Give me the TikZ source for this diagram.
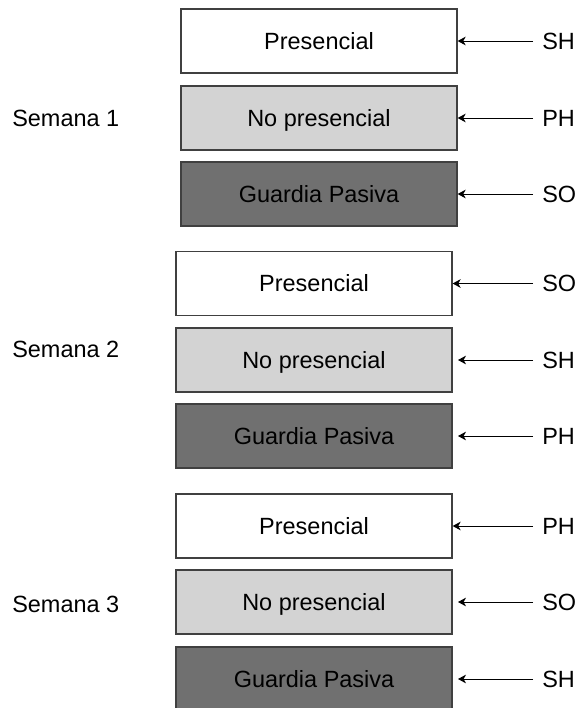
\documentclass[tikz,border=0pt]{standalone}
\usepackage{fontspec}
\setmainfont{Liberation Sans}
\usetikzlibrary{arrows.meta}

\definecolor{lightbox}{HTML}{D3D3D3}
\definecolor{darkbox}{HTML}{707070}
\definecolor{boxline}{HTML}{404040}

\tikzset{
  texto/.style={font=\fontsize{17.6}{20}\selectfont,text height=12.6pt,text depth=0pt},
  turno/.style={texto,draw=boxline,line width=1pt,minimum width=207pt,minimum height=48pt,
    inner sep=0pt},
  pres/.style={turno,fill=white},
  nopres/.style={turno,fill=lightbox},
  pasiva/.style={turno,fill=darkbox},
  quien/.style={texto,anchor=west,inner sep=0pt},
  semana/.style={texto,anchor=west,inner sep=0pt},
  flecha/.style={line width=0.75pt,-{Stealth[length=6pt,width=6.5pt,inset=1.8pt]}}
}

\begin{document}
\begin{tikzpicture}[x=0.75pt,y=-0.75pt]
  \useasboundingbox (0,0) rectangle (584,708);
  % semana 1
    \node[semana] (s1) at (12,118) {Semana 1};
    \node[pres] (p1) at (319,41) {Presencial};
    \node[nopres] (n1) at (319,118) {No presencial};
    \node[pasiva] (g1) at (319,194) {Guardia Pasiva};
    \node[quien] (lp1) at (542,41) {SH};
    \node[quien] (ln1) at (542,118) {PH};
    \node[quien] (lg1) at (542,194) {SO};
    \coordinate (ap1) at (533,41);
    \coordinate (an1) at (533,118);
    \coordinate (ag1) at (533,194);
    \draw[flecha] (ap1) -- (p1.east);
    \draw[flecha] (an1) -- (n1.east);
    \draw[flecha] (ag1) -- (g1.east);
  % semana 2
    \node[semana] (s2) at (12,349) {Semana 2};
    \node[pres] (p2) at (314,283.5) {Presencial};
    \node[nopres] (n2) at (314,360) {No presencial};
    \node[pasiva] (g2) at (314,436) {Guardia Pasiva};
    \node[quien] (lp2) at (542,283.5) {SO};
    \node[quien] (ln2) at (542,360) {SH};
    \node[quien] (lg2) at (542,436) {PH};
    \coordinate (ap2) at (533,283.5);
    \coordinate (an2) at (533,360);
    \coordinate (ag2) at (533,436);
    \draw[flecha] (ap2) -- (p2.east);
    \draw[flecha,shorten >=4pt] (an2) -- (n2.east);
    \draw[flecha,shorten >=4pt] (ag2) -- (g2.east);
  % semana 3
    \node[semana] (s3) at (12,604) {Semana 3};
    \node[pres] (p3) at (314,526) {Presencial};
    \node[nopres] (n3) at (314,602) {No presencial};
    \node[pasiva] (g3) at (314,679) {Guardia Pasiva};
    \node[quien] (lp3) at (542,526) {PH};
    \node[quien] (ln3) at (542,602) {SO};
    \node[quien] (lg3) at (542,679) {SH};
    \coordinate (ap3) at (533,526);
    \coordinate (an3) at (533,602);
    \coordinate (ag3) at (533,679);
    \draw[flecha] (ap3) -- (p3.east);
    \draw[flecha,shorten >=4pt] (an3) -- (n3.east);
    \draw[flecha,shorten >=4pt] (ag3) -- (g3.east);
\end{tikzpicture}
\end{document}
